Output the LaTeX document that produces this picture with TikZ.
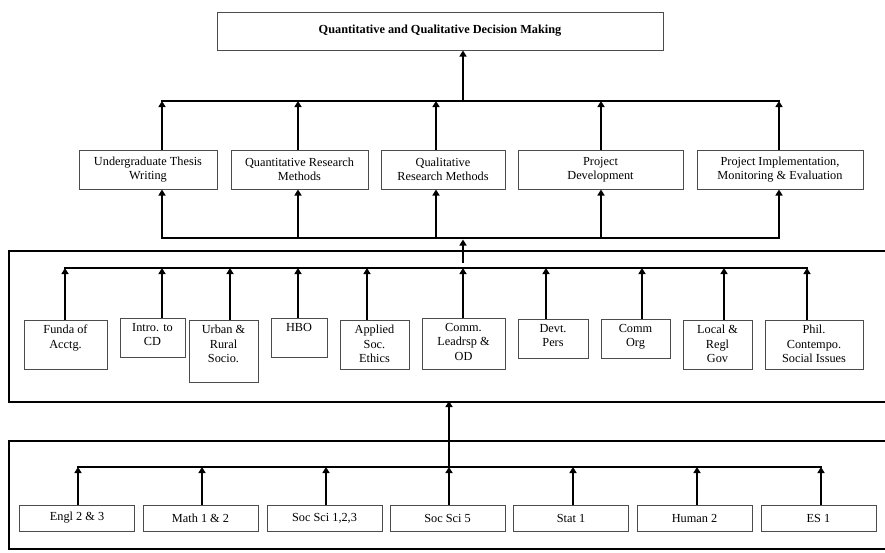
\documentclass[tikz,border=0pt]{standalone}
\usepackage{fontspec}
\setmainfont{Liberation Serif}
\usetikzlibrary{arrows.meta}
\newcommand{\bx}[3]{\parbox[c][#2][t]{#1}{\vspace*{5pt}\centering\fontsize{12.3}{14.5}\selectfont #3}}
\tikzset{
  box/.style={draw=black!70, line width=1pt, inner sep=0pt, fill=white},
  bus/.style={line width=2.4pt, line cap=rect},
  arr/.style={line width=2.4pt, -{Triangle[width=7pt,length=6pt]}},
  frame/.style={line width=2.4pt},
}
\begin{document}
\begin{tikzpicture}[x=1pt,y=-1pt]
\useasboundingbox (0,0) rectangle (885,552);
\clip (0,0) rectangle (885,552);
\fontsize{12.3}{13.5}\selectfont
% frames
\draw[frame] (9,251) rectangle (895,402);
\draw[frame] (9,441) rectangle (895,549);
% top
\node[box, minimum width=446pt, minimum height=38pt] (top) at (440,31) {\textbf{Quantitative and Qualitative Decision Making}};
% level 2
\node[box, minimum width=138pt, minimum height=39pt, align=center] (b1) at (148,169.5) {Undergraduate Thesis\\Writing};
\node[box, minimum width=137pt, minimum height=39pt, align=center] (b2) at (299.5,169.5) {Quantitative Research\\Methods};
\node[box, minimum width=124pt, minimum height=39pt, align=center] (b3) at (443,169.5) {Qualitative\\Research Methods};
\node[box, minimum width=165pt, minimum height=39pt, align=center] (b4) at (600.5,169.5) {Project\\Development};
\node[box, minimum width=166pt, minimum height=39pt, align=center] (b5) at (780,169.5) {Project Implementation,\\Monitoring \& Evaluation};
\coordinate (t1) at (162,101); \coordinate (t2) at (298,101); \coordinate (t3) at (436,101);
\coordinate (t4) at (601,101); \coordinate (t5) at (779,101); \coordinate (tc) at (463,101);
\coordinate (m1) at (162,238); \coordinate (m2) at (298,238); \coordinate (m3) at (436,238);
\coordinate (m4) at (601,238); \coordinate (m5) at (779,238); \coordinate (mc) at (463,238);
\draw[bus] (t1) -- (t5);
\draw[bus] (m1) -- (m5);
\draw[arr] (tc) -- (top.south -| tc);
\foreach \i in {1,...,5} {
  \draw[arr] (b\i.north -| t\i) -- (t\i);
  \draw[arr] (m\i) -- (b\i.south -| m\i);
}
\coordinate (fc) at (463,263);
\draw[arr] (fc) -- ([yshift=-1.5pt]mc);
% level 3
\node[box] (c1) at (65.5,344.5) {\bx{83pt}{49pt}{Funda of\\Acctg.}};
\node[box] (c2) at (152.5,337.5) {\bx{65pt}{39pt}{Intro. to\\CD}};
\node[box] (c3) at (223.5,351) {\bx{69pt}{62pt}{Urban \&\\Rural\\Socio.}};
\node[box] (c4) at (299,337.5) {\bx{56pt}{39pt}{HBO}};
\node[box] (c5) at (374.5,344.5) {\bx{69pt}{49pt}{Applied\\Soc.\\Ethics}};
\node[box] (c6) at (463.5,343.5) {\bx{83pt}{51pt}{Comm.\\Leadrsp \&\\OD}};
\node[box] (c7) at (553,338.5) {\bx{70pt}{39pt}{Devt.\\Pers}};
\node[box] (c8) at (635.5,338.5) {\bx{69pt}{39pt}{Comm\\Org}};
\node[box] (c9) at (717.5,344.5) {\bx{69pt}{49pt}{Local \&\\Regl\\Gov}};
\node[box] (c10) at (814,344.5) {\bx{98pt}{49pt}{Phil.\\Contempo.\\Social Issues}};
\foreach \i/\x in {1/65,2/162,3/230,4/298,5/367,6/463,7/546,8/642,9/724,10/807} {
  \coordinate (n\i) at (\x,268);
}
\draw[bus] (n1) -- (n10);
\foreach \i in {1,...,10} {
  \draw[arr] (c\i.north -| n\i) -- (n\i);
}
% bottom
\foreach \i/\x/\t in {1/77/Engl 2 \& 3,2/200.5/Math 1 \& 2,3/324.5/{Soc Sci 1,2,3},4/447.5/Soc Sci 5,5/571/Stat 1,6/694.5/Human 2,7/818.5/ES 1} {
  \node[box, minimum width=115pt, minimum height=26pt] (d\i) at (\x,518) {\t};
}
\foreach \i/\x in {1/78,2/202,3/326,4/449,5/573,6/697,7/821} {
  \coordinate (s\i) at (\x,467);
}
\draw[bus] (s1) -- (s7);
\foreach \i in {1,...,7} {
  \draw[arr] (d\i.north -| s\i) -- (s\i);
}
\coordinate (f2) at (449,402);
\draw[arr] (s4) -- ([yshift=1pt]f2);
\end{tikzpicture}
\end{document}
